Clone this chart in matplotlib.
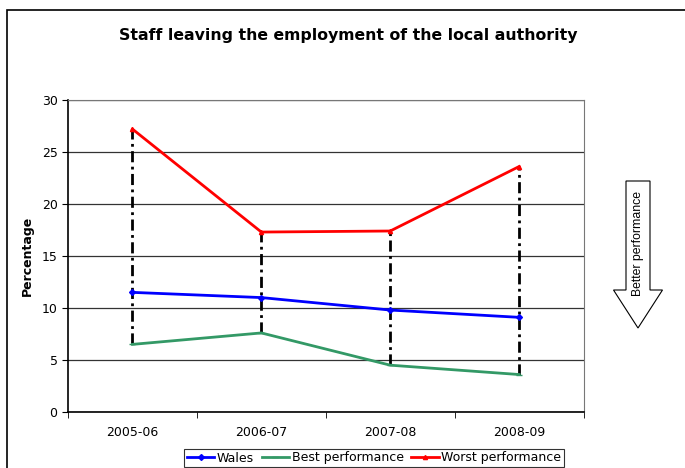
import matplotlib.pyplot as plt
from matplotlib.patches import Rectangle, FancyArrow

years = ["2005-06", "2006-07", "2007-08", "2008-09"]
wales = [11.5, 11.0, 9.8, 9.1]
best = [6.5, 7.6, 4.5, 3.6]
worst = [27.2, 17.3, 17.4, 23.6]

plt.rcParams['font.family'] = ['DejaVu Sans']

fig = plt.figure(figsize=(6.85, 4.68), dpi=100)
ax = fig.add_axes([0.0993, 0.1197, 0.7526, 0.6667])

x = list(range(len(years)))

# high-low drop lines between worst and best
for xi, lo, hi in zip(x, best, worst):
    ax.plot([xi, xi], [lo, hi], color='black', lw=2, ls=(0, (4, 1.6, 1, 1.6)), zorder=2)

ax.plot(x, wales, color='#0000ff', lw=2, marker='D', ms=3, label='Wales', zorder=3)
ax.plot(x, best, color='#339966', lw=2, marker='_', ms=4, label='Best performance', zorder=3)
ax.plot(x, worst, color='#ff0000', lw=2, marker='^', ms=3, label='Worst performance', zorder=3)

ax.set_xlim(-0.5, 3.5)
ax.set_ylim(0, 30)
ax.set_yticks(range(0, 31, 5))
ax.set_xticks(x)
ax.set_xticklabels(years, fontsize=9)
ax.set_xticks([-0.5, 0.5, 1.5, 2.5, 3.5], minor=True)
ax.tick_params(axis='x', which='major', length=0, pad=10)
ax.tick_params(axis='x', which='minor', length=4, direction='out', color='black')
ax.tick_params(axis='y', labelsize=9, length=4, direction='out')
ax.yaxis.grid(True, color='#333333', lw=0.9)
ax.set_axisbelow(True)
for side in ['top', 'right']:
    ax.spines[side].set_color('#777777')
for side in ['left', 'bottom']:
    ax.spines[side].set_linewidth(1.2)

ax.set_ylabel('Percentage', fontsize=9, fontweight='bold', labelpad=6)

fig.text(0.508, 0.925, 'Staff leaving the employment of the local authority',
         ha='center', va='center', fontsize=11.3, fontweight='bold')

# outer chart border
fig.patches.append(Rectangle((7 / 685, -0.05), 1.2, 1 - 10 / 468 + 0.05,
                             transform=fig.transFigure, fill=False,
                             edgecolor='black', lw=1.2))

# "Better performance" arrow
arr = FancyArrow(638 / 685, 1 - 181 / 468, 0, -(328 - 181) / 468,
                 width=24 / 685, head_width=49 / 685, head_length=38 / 468,
                 length_includes_head=True, transform=fig.transFigure,
                 facecolor='white', edgecolor='black', lw=0.8)
fig.patches.append(arr)
fig.text(638 / 685, 1 - 244 / 468, 'Better performance', rotation=90,
         ha='center', va='center', fontsize=8.8, family='Liberation Sans')

leg = fig.legend(loc='upper center', bbox_to_anchor=(374 / 685, 1 - 449 / 468),
                 ncol=3, fontsize=9, frameon=True, fancybox=False,
                 edgecolor='black', handlelength=2.2, handletextpad=0.2,
                 columnspacing=0.6, borderpad=0.2, borderaxespad=0)
leg.get_frame().set_linewidth(0.8)

fig.savefig('out.png', dpi=100)
